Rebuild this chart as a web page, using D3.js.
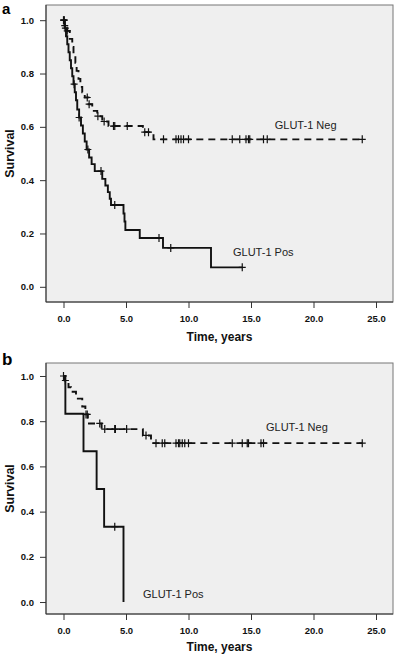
<!DOCTYPE html>
<html><head><meta charset="utf-8">
<script src="https://cdn.jsdelivr.net/npm/d3@7"></script>
<style>body{margin:0;background:#fff}svg{display:block}</style>
</head><body><svg id="c" width="396" height="655"></svg>
<script>
const xTicks = [0, 5, 10, 15, 20, 25];
const yTicks = [0, 0.2, 0.4, 0.6, 0.8, 1.0];
const xTitle = "Time, years";
const yTitle = "Survival";

// Panel a — GLUT-1 Pos (solid)
const aPosTimes = [0.1,0.2,0.3,0.4,0.5,0.6,0.7,0.8,0.9,1.0,1.1,1.25,1.4,1.55,1.7,1.85,2.05,2.25,2.5,3.1,3.35,3.55,3.7,3.8,4.8,4.88,4.95,6.1,7.96,11.8];
const aPosSurv  = [0.97,0.94,0.91,0.88,0.85,0.82,0.79,0.76,0.73,0.70,0.665,0.635,0.605,0.575,0.545,0.515,0.485,0.46,0.434,0.405,0.38,0.355,0.33,0.307,0.275,0.245,0.213,0.183,0.146,0.073];
const aPosCens  = [0.0,0.05,0.15,0.85,1.25,1.95,3.0,4.1,7.64,8.58,14.3];
// Panel a — GLUT-1 Neg (dashed)
const aNegTimes = [0.1,0.3,0.5,0.7,0.8,0.95,1.05,1.2,1.35,1.5,1.7,2.0,2.3,2.7,3.1,3.6,6.35,7.2];
const aNegSurv  = [0.98,0.96,0.93,0.90,0.87,0.84,0.81,0.78,0.75,0.73,0.71,0.685,0.66,0.64,0.62,0.603,0.58,0.553];
const aNegCens  = [0.05,0.1,0.3,1.9,2.05,2.75,3.25,4.0,4.1,5.1,6.5,6.8,8.0,9.0,9.2,9.4,9.6,10.0,13.5,14.1,14.6,14.8,14.9,16.0,16.3,23.9];

// Panel b — GLUT-1 Pos (solid)
const bPosTimes = [0.15,1.6,2.65,3.25,4.8];
const bPosSurv  = [0.833,0.667,0.5,0.333,0.0];
const bPosCens  = [4.1];
// Panel b — GLUT-1 Neg (dashed)
const bNegTimes = [0.1,0.4,0.6,1.0,1.5,1.75,1.95,3.05,6.35,7.0];
const bNegSurv  = [0.98,0.95,0.93,0.90,0.865,0.83,0.79,0.765,0.737,0.703];
const bNegCens  = [0.0,0.15,1.8,1.9,2.9,3.3,4.1,4.15,5.05,6.6,7.4,7.9,8.1,9.0,9.2,9.3,9.5,9.7,10.0,13.5,14.3,14.7,14.8,15.8,16.0,23.9];

const seriesNames = ["GLUT-1 Neg", "GLUT-1 Pos"];

const svg = d3.select("#c");

function survAt(times, surv, t) {
  let s = 1;
  for (let i = 0; i < times.length; i++) { if (times[i] <= t) s = surv[i]; }
  return s;
}
function stepPoints(times, surv, end) {
  const pts = [[0, 1]];
  let s = 1;
  times.forEach((t, i) => { pts.push([t, s]); s = surv[i]; pts.push([t, s]); });
  if (end > times[times.length - 1]) pts.push([end, s]);
  return pts;
}

function panel(o) {
  const x = d3.scaleLinear().domain([-1.4, 26.36]).range([46, 393]);
  const y = d3.scaleLinear().domain(o.yDom).range([o.bottom, o.top]);
  const g = svg.append("g");
  g.append("rect").attr("x", 46).attr("y", o.top).attr("width", 347).attr("height", o.bottom - o.top)
    .attr("fill", "#efefef").attr("stroke", "#777").attr("stroke-width", 1);
  g.append("line").attr("x1", 46).attr("x2", 46).attr("y1", o.top).attr("y2", o.bottom).attr("stroke", "#333");
  g.append("line").attr("x1", 46).attr("x2", 393).attr("y1", o.bottom).attr("y2", o.bottom).attr("stroke", "#333");

  const ya = g.append("g").attr("transform", "translate(46,0)")
    .call(d3.axisLeft(y).tickValues(yTicks).tickFormat(d3.format(".1f")).tickSize(6).tickPadding(6));
  ya.select(".domain").remove();
  const xa = g.append("g").attr("transform", `translate(0,${o.bottom})`)
    .call(d3.axisBottom(x).tickValues(xTicks).tickFormat(d3.format(".1f")).tickSize(6).tickPadding(7));
  xa.select(".domain").remove();
  [ya, xa].forEach(a => {
    a.selectAll("text").attr("font-family", "Liberation Sans, Arial, sans-serif").attr("font-size", 9.5).attr("font-weight", "bold").attr("fill", "#111");
    a.selectAll("line").attr("stroke", "#333");
  });

  const line = d3.line().x(d => x(d[0])).y(d => y(d[1]));
  const curves = [
    {times: o.negT, surv: o.negS, cens: o.negC, dash: "7,5"},
    {times: o.posT, surv: o.posS, cens: o.posC, dash: null}
  ];
  curves.forEach(c => {
    const end = Math.max(c.times[c.times.length - 1], d3.max(c.cens));
    g.append("path").attr("d", line(stepPoints(c.times, c.surv, end)))
      .attr("fill", "none").attr("stroke", "#111").attr("stroke-width", 1.9)
      .attr("stroke-dasharray", c.dash);
    c.cens.forEach(t => {
      const px = x(t), py = y(survAt(c.times, c.surv, t));
      g.append("path").attr("d", `M${px - 3.5},${py}H${px + 3.5}M${px},${py - 4}V${py + 4}`)
        .attr("stroke", "#111").attr("stroke-width", 1.2).attr("fill", "none");
    });
  });

  const lab = (txt, t, s) => g.append("text").attr("x", x(t)).attr("y", y(s)).text(txt)
    .attr("font-family", "Liberation Sans, Arial, sans-serif").attr("font-size", 11).attr("fill", "#222");
  lab(seriesNames[0], o.negLab[0], o.negLab[1]);
  lab(seriesNames[1], o.posLab[0], o.posLab[1]);

  g.append("text").attr("x", 219.5).attr("y", o.xTitleY).attr("text-anchor", "middle").text(xTitle)
    .attr("font-family", "Liberation Sans, Arial, sans-serif").attr("font-size", 12).attr("font-weight", "bold").attr("fill", "#111");
  g.append("text").attr("transform", `translate(14,${(o.top + o.bottom) / 2}) rotate(-90)`).attr("text-anchor", "middle").text(yTitle)
    .attr("font-family", "Liberation Sans, Arial, sans-serif").attr("font-size", 12.5).attr("font-weight", "bold").attr("fill", "#111");
  g.append("text").attr("x", 2).attr("y", o.letterY).text(o.letter)
    .attr("font-family", "Liberation Sans, Arial, sans-serif").attr("font-size", o.letterSize).attr("font-weight", "bold").attr("fill", "#000");
}

panel({top: 5, bottom: 302, yDom: [-0.057, 1.057],
  posT: aPosTimes, posS: aPosSurv, posC: aPosCens,
  negT: aNegTimes, negS: aNegSurv, negC: aNegCens,
  negLab: [16.9, 0.592], posLab: [13.56, 0.116], xTitleY: 341, letter: "a", letterY: 14, letterSize: 15});
panel({top: 363, bottom: 614, yDom: [-0.053, 1.0575],
  posT: bPosTimes, posS: bPosSurv, posC: bPosCens,
  negT: bNegTimes, negS: bNegSurv, negC: bNegCens,
  negLab: [16.2, 0.757], posLab: [6.36, 0.018], xTitleY: 651, letter: "b", letterY: 365, letterSize: 17});
</script></body></html>
